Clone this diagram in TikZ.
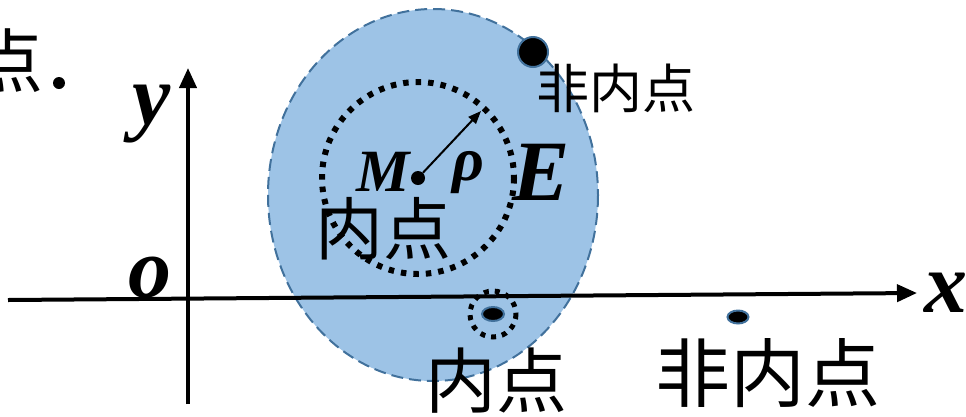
\documentclass[tikz,border=0pt]{standalone}
\usepackage{fontspec}
\setmainfont{Liberation Serif}
\newfontfamily\cjk{Noto Sans CJK SC}
\usetikzlibrary{arrows.meta,shapes.geometric}
\definecolor{efill}{HTML}{9DC3E6}
\definecolor{eborder}{HTML}{41719C}
\begin{document}
\begin{tikzpicture}[x=1pt,y=-1pt,
  axis/.style={line width=4pt,-{Triangle[length=20pt,width=17pt]}},
  lab/.style={inner sep=0pt,font=\fontsize{86}{86}\selectfont\bfseries\itshape},
  cn/.style={inner sep=0pt,font=\cjk},
  dotring/.style={line width=6pt,dash pattern=on 5.5pt off 7pt},
  ptdot/.style={fill=black,draw=eborder,line width=2pt}]
\useasboundingbox (0,0) rectangle (966,416);
% region E
\draw[fill=efill,draw=eborder,line width=2pt,dash pattern=on 12pt off 6pt] (433,195) ellipse [x radius=165,y radius=186];
% axes
\coordinate (xs) at (8,300);
\coordinate (xe) at (917,293);
\coordinate (ys) at (188,404);
\coordinate (ye) at (188,68);
\draw[axis] (xs) -- (xe);
\draw[axis] (ys) -- (ye);
\node[lab] (ylab) at (152,114) {y};
\node[lab] (olab) at (150,278) {o};
\node[lab] (xlab) at (946,293) {x};
% neighbourhood of M
\draw[dotring] (418,178) circle [radius=96];
\node[circle,fill=black,inner sep=0pt,minimum size=14pt] (M) at (418,178) {};
\coordinate (rho) at (481,111);
\draw[line width=2pt,-{Triangle[length=13pt,width=10pt]}] (M) -- (rho);
\node[inner sep=0pt,font=\fontsize{60}{60}\selectfont\bfseries\itshape] (Mlab) at (383,172) {M};
\node[inner sep=0pt,font=\fontsize{62}{62}\selectfont\bfseries\itshape] (rholab) at (468,173) {ρ};
\node[lab] (Elab) at (541,172) {E};
\node[cn,font=\cjk\fontsize{68}{68}\selectfont] (in1) at (383,229) {内点};
% boundary (non-interior) point
\node[ptdot,circle,inner sep=0pt,minimum size=30pt] (P1) at (533,52) {};
\node[cn,font=\cjk\fontsize{53}{53}\selectfont] (non1) at (616,88) {非内点};
% interior point on axis
\draw[dotring,line width=5pt,dash pattern=on 5pt off 6pt] (493,314) circle [radius=23];
\node[ptdot,ellipse,inner sep=0pt,minimum width=22pt,minimum height=14pt] (P2) at (493,314) {};
\node[cn,font=\cjk\fontsize{71}{71}\selectfont] (in2) at (496,381) {内点};
% outside point
\node[ptdot,ellipse,inner sep=0pt,minimum width=21pt,minimum height=13pt] (P3) at (738,317) {};
\node[cn,font=\cjk\fontsize{75}{75}\selectfont] (non2) at (768,373) {非内点};
% partial text at top left
\node[cn,font=\cjk\fontsize{70}{70}\selectfont,anchor=east] (dian) at (44,61) {点};
\node[circle,fill=black,inner sep=0pt,minimum size=12pt] (period) at (59,83) {};
\end{tikzpicture}
\end{document}
